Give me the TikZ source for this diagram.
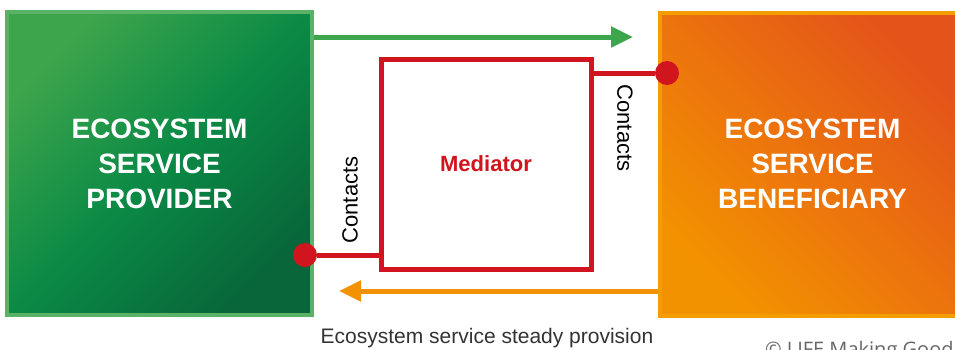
\documentclass[tikz,border=0pt]{standalone}
\usepackage{fontspec}
\setmainfont{Liberation Sans}
\newfontfamily\creditfont{Open Sans}
\usetikzlibrary{arrows.meta}
\definecolor{ecogreen}{HTML}{0B8A45}
\definecolor{ecogreenlight}{HTML}{3DA54C}
\definecolor{ecogreendark}{HTML}{08663A}
\definecolor{ecoorange}{HTML}{F39200}
\definecolor{ecored}{HTML}{E4531A}
\definecolor{medred}{HTML}{D0151F}
\tikzset{
  ecobox/.style={rectangle,inner sep=0pt,minimum width=152.5pt,minimum height=151.5pt,
    line width=2pt,text=white,align=center,font=\bfseries\fontsize{14}{17.5}\selectfont},
  medbox/.style={rectangle,draw=medred,line width=2.5pt,fill=white,inner sep=0pt,
    minimum size=105pt,text=medred,font=\bfseries\fontsize{11}{13}\selectfont},
  contactdot/.style={circle,fill=medred,inner sep=0pt,minimum size=12pt},
  contactline/.style={medred,line width=2.5pt},
  flowgreen/.style={ecogreenlight,line width=2.5pt,-{Triangle[length=11pt,width=10pt]}},
  floworange/.style={ecoorange,line width=2.5pt,-{Triangle[length=11pt,width=10pt]}},
  contactlabel/.style={font=\fontsize{11}{13}\selectfont,inner sep=0pt}
}
\begin{document}
\begin{tikzpicture}[x=0.5pt,y=-0.5pt]
  \useasboundingbox (0,0) rectangle (955,349);
  % the two parties
  \node[ecobox,draw=ecogreenlight!85,top color=ecogreenlight,bottom color=ecogreendark,
    middle color=ecogreen,shading angle=45] (provider) at (159.5,163.5) {ECOSYSTEM\\SERVICE\\PROVIDER};
  \node[ecobox,draw=ecoorange!90!yellow,top color=ecored,bottom color=ecoorange,
    shading angle=-45] (beneficiary) at (812.5,164) {ECOSYSTEM\\SERVICE\\BENEFICIARY};
  % mediator in between
  \node[medbox] (mediator) at (486,164) {Mediator};
  \node[contactdot] (contactR) at (667,73) {};
  \node[contactdot] (contactL) at (305,255) {};
  \draw[contactline] (contactR) -- (contactR -| mediator.east);
  \draw[contactline] (contactL) -- (contactL -| mediator.west);
  \node[contactlabel,rotate=-90] (contactsR) at (625,128) {Contacts};
  \node[contactlabel,rotate=90] (contactsL) at (350,200) {Contacts};
  % service flows
  \coordinate (supplyEnd) at (633,37);
  \coordinate (returnEnd) at (339,291);
  \draw[flowgreen] (supplyEnd -| provider.east) -- (supplyEnd);
  \draw[floworange] (returnEnd -| beneficiary.west) -- (returnEnd);
  \node[font=\fontsize{10.5}{12}\selectfont,text=black!80] (provision) at (487,338) {Ecosystem service steady provision};
  \node[anchor=base west,font=\creditfont\fontsize{10}{12}\selectfont,text=black!60] (credit) at (758,356) {© LIFE Making Good Natura};
\end{tikzpicture}
\end{document}
